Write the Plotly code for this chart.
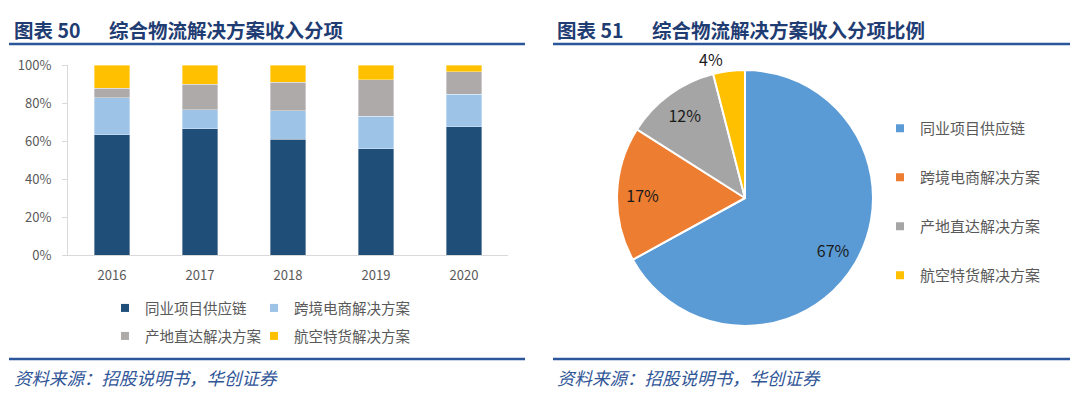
import plotly.graph_objects as go

# ---------------- data ----------------
years = ["2016", "2017", "2018", "2019", "2020"]
series_names = ["同业项目供应链", "跨境电商解决方案", "产地直达解决方案", "航空特货解决方案"]
supply_chain = [0.633, 0.665, 0.608, 0.560, 0.675]
cross_border = [0.195, 0.100, 0.152, 0.170, 0.172]
origin_direct = [0.050, 0.133, 0.150, 0.192, 0.118]
air_special = [0.122, 0.102, 0.090, 0.078, 0.035]
bar_colors = ["#1F4E79", "#9DC3E6", "#AEAAAA", "#FFC000"]

pie_values = [67, 17, 12, 4]
pie_colors = ["#5B9BD5", "#ED7D31", "#A5A5A5", "#FFC000"]

y_ticks = [0, 0.2, 0.4, 0.6, 0.8, 1.0]
y_ticklabels = ["0%", "20%", "40%", "60%", "80%", "100%"]

title_left_no = "图表 50"
title_left = "综合物流解决方案收入分项"
title_right_no = "图表 51"
title_right = "综合物流解决方案收入分项比例"
source_text = "资料来源：招股说明书，华创证券"

# page body has an 8px margin, so the figure is sized to fill the rest of the window
OFF = 8
W, H = 1080 - OFF, 398 - OFF
FONT = "Noto Sans CJK SC"
GREY_TXT = "#595959"
NAVY = "#1F3C73"


def px(x):
    return (x - OFF) / W


def py(y):
    return 1 - (y - OFF) / H


fig = go.Figure()

bar_series = [supply_chain, cross_border, origin_direct, air_special]
for i, (name, vals) in enumerate(zip(series_names, bar_series)):
    fig.add_trace(go.Bar(
        x=years, y=vals, name=name,
        marker=dict(color=bar_colors[i], line=dict(color="rgba(255,255,255,0.6)", width=0.6)),
        showlegend=False, hoverinfo="skip",
    ))

# legend entries for the bar chart (2 x 2 grid, one legend per cell)
bar_legend_ids = ["legend", "legend2", "legend4", "legend5"]
for name, col, lid in zip(series_names, bar_colors, bar_legend_ids):
    fig.add_trace(go.Scatter(
        x=[None], y=[None], mode="markers", name=name,
        marker=dict(symbol="square", size=8, color=col),
        legend=lid, xaxis="x2", yaxis="y2", hoverinfo="skip",
    ))

# base pie (slices)
pie_domain = dict(x=[px(617), px(873)], y=[py(326), py(70)])
fig.add_trace(go.Pie(
    values=pie_values, labels=series_names,
    marker=dict(colors=pie_colors, line=dict(color="white", width=2)),
    sort=False, direction="clockwise", rotation=0,
    textinfo="none", domain=pie_domain,
    showlegend=False, hoverinfo="skip",
))
# transparent ring carrying the percentage labels (places them near the rim)
fig.add_trace(go.Pie(
    values=pie_values, labels=series_names, hole=0.6,
    marker=dict(colors=["rgba(0,0,0,0)"] * len(pie_values), line=dict(width=0)),
    sort=False, direction="clockwise", rotation=0,
    texttemplate="%{percent:.0%}",
    textposition=["inside", "inside", "inside", "outside"],
    insidetextorientation="horizontal",
    textfont=dict(family=FONT, size=16, color="#1a1a1a"),
    domain=pie_domain,
    showlegend=False, hoverinfo="skip",
))

# legend entries for pie (one group each, so spacing can be set)
for name, col in zip(series_names, pie_colors):
    fig.add_trace(go.Scatter(
        x=[None], y=[None], mode="markers", name=name,
        marker=dict(symbol="square", size=8, color=col),
        legend="legend3", legendgroup=name,
        xaxis="x2", yaxis="y2", hoverinfo="skip",
    ))

leg_common = dict(xanchor="left", yanchor="middle", font=dict(size=14.5, color=GREY_TXT),
                  bgcolor="rgba(0,0,0,0)", orientation="h")

fig.update_layout(
    width=W, height=H,
    margin=dict(l=0, r=0, t=0, b=0, autoexpand=False),
    paper_bgcolor="white", plot_bgcolor="white",
    barmode="stack", bargap=0.6,
    font=dict(family=FONT, color=GREY_TXT),
    xaxis=dict(
        domain=[px(68), px(508)], showline=True, linecolor="#D9D9D9", linewidth=1,
        ticks="", showgrid=False, tickfont=dict(size=13, color=GREY_TXT),
        ticklabelstandoff=8, fixedrange=True,
    ),
    yaxis=dict(
        domain=[py(255), py(65)], range=[0, 1], tickvals=y_ticks, ticktext=y_ticklabels,
        showline=True, linecolor="#D9D9D9", linewidth=1, ticks="outside", ticklen=5,
        tickcolor="#D9D9D9", showgrid=False, zeroline=False,
        tickfont=dict(size=13, color=GREY_TXT), ticklabelstandoff=8,
    ),
    xaxis2=dict(domain=[0.9, 0.95], visible=False),
    yaxis2=dict(domain=[0.0, 0.05], visible=False),
    legend=dict(x=px(105), y=py(308), **leg_common),
    legend2=dict(x=px(254), y=py(308), **leg_common),
    legend4=dict(x=px(105), y=py(336), **leg_common),
    legend5=dict(x=px(254), y=py(336), **leg_common),
    legend3=dict(
        orientation="v", x=px(880), y=py(112), xanchor="left", yanchor="top",
        font=dict(size=15, color=GREY_TXT), tracegroupgap=26.5, bgcolor="rgba(0,0,0,0)",
        traceorder="grouped",
    ),
)

# header / footer rules
for x0, x1 in [(9, 525), (553, 1070)]:
    for yy in (44, 359):
        fig.add_shape(type="line", xref="paper", yref="paper",
                      x0=px(x0), x1=px(x1), y0=py(yy), y1=py(yy),
                      line=dict(color="#2B579A", width=2.5))

ann = []
for x, txt in [(12, title_left_no), (107, title_left), (555, title_right_no), (650, title_right)]:
    ann.append(dict(x=px(x), y=py(29), xref="paper", yref="paper", xanchor="left", yanchor="middle",
                    text=f"<b>{txt}</b>", showarrow=False,
                    font=dict(family=FONT, size=19.5, color=NAVY)))
for x in (12, 555):
    ann.append(dict(x=px(x), y=py(377), xref="paper", yref="paper", xanchor="left", yanchor="middle",
                    text=f"<i>{source_text}</i>", showarrow=False,
                    font=dict(family=FONT, size=17.5, color="#2F5597")))
fig.update_layout(annotations=ann)

fig.write_html("out.html")
